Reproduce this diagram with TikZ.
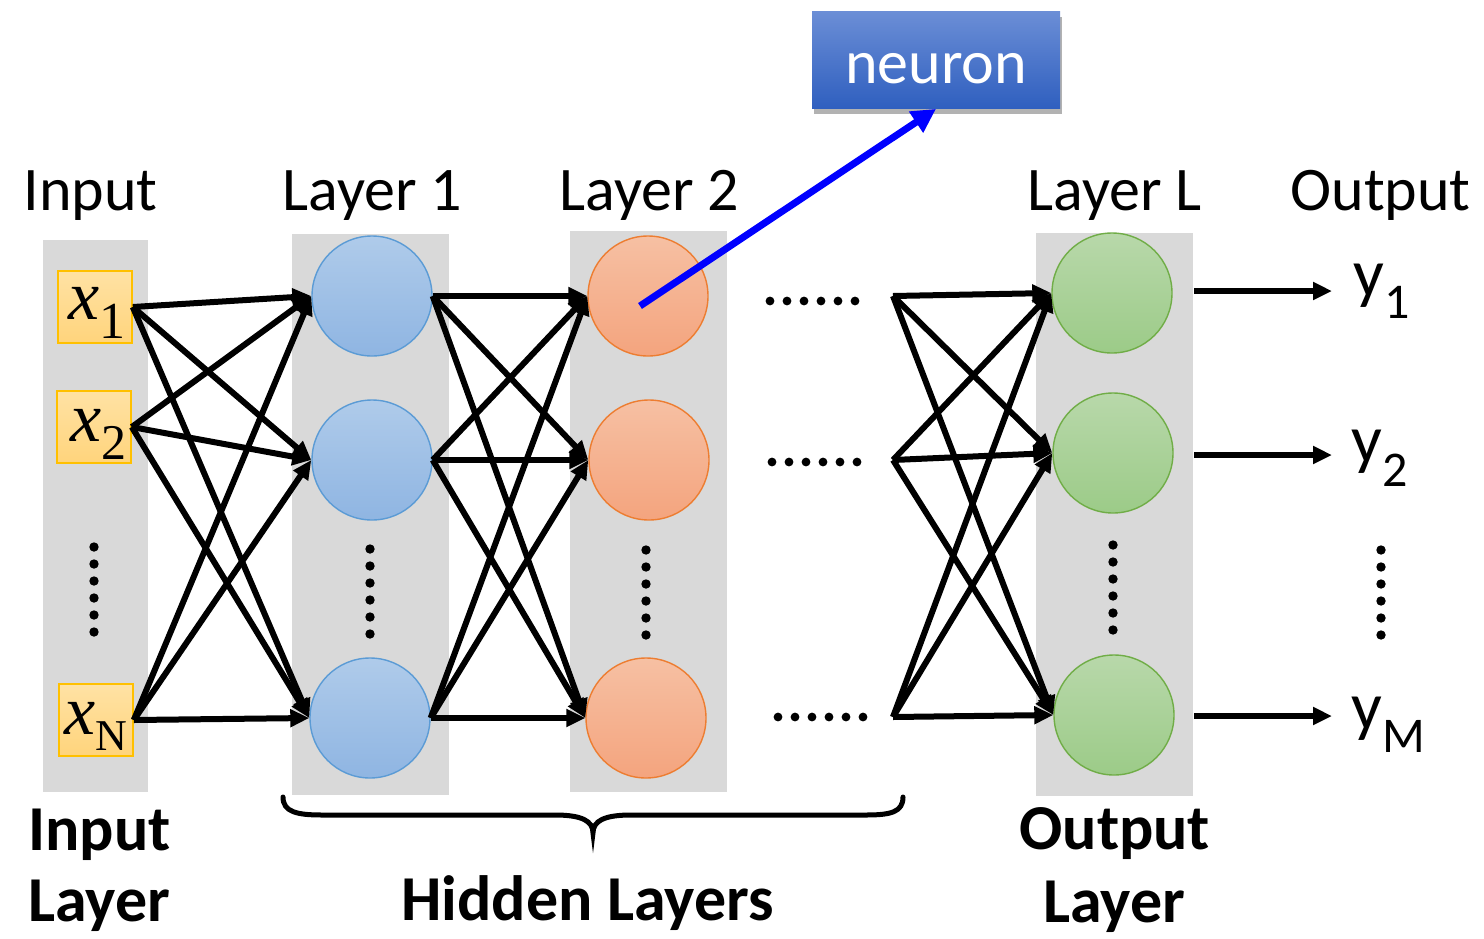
\documentclass[tikz,border=0pt]{standalone}
\usepackage{fontspec}
\setmainfont{Carlito}
\newfontfamily\tms{Liberation Serif}
\usetikzlibrary{arrows.meta,shadows}
\definecolor{gbar}{HTML}{D9D9D9}
\definecolor{bluetop}{HTML}{AFCBEA}
\definecolor{bluebot}{HTML}{8FB5E2}
\definecolor{blueline}{HTML}{5B9BD5}
\definecolor{orgtop}{HTML}{F6C0A3}
\definecolor{orgbot}{HTML}{F4A47E}
\definecolor{orgline}{HTML}{ED7D31}
\definecolor{grntop}{HTML}{B8D8AA}
\definecolor{grnbot}{HTML}{9CCB88}
\definecolor{grnline}{HTML}{70AD47}
\definecolor{xtop}{HTML}{FFE2A4}
\definecolor{xbot}{HTML}{FFD47C}
\definecolor{xline}{HTML}{FFC000}
\definecolor{neutop}{HTML}{6B8ED6}
\definecolor{neubot}{HTML}{2F5FBF}
\begin{document}
\begin{tikzpicture}[x=0.5pt,y=-0.5pt,
  neu/.style={circle,minimum size=60pt,inner sep=0pt,line width=0.7pt},
  bluen/.style={neu,draw=blueline,top color=bluetop,bottom color=bluebot},
  orgn/.style={neu,draw=orgline,top color=orgtop,bottom color=orgbot},
  grnn/.style={neu,draw=grnline,top color=grntop,bottom color=grnbot},
  xbox/.style={draw=xline,line width=0.8pt,top color=xtop,bottom color=xbot,minimum width=37pt,minimum height=36pt,inner sep=0pt},
  edge/.style={line width=3pt,-{Triangle[length=9.5pt,width=8.5pt]}},
  toplab/.style={anchor=base west,inner sep=0pt,font=\fontsize{31}{31}\selectfont},
  botlab/.style={anchor=base west,inner sep=0pt,font=\bfseries\fontsize{32}{32}\selectfont},
  dotc/.style={fill=black}
]
\useasboundingbox (0,0) rectangle (1484,938);
\fill[white] (0,0) rectangle (1484,938);
% gray columns
\fill[gbar] (43,240) rectangle (148,792);
\fill[gbar] (292,234) rectangle (449,795);
\fill[gbar] (570,231) rectangle (727,792);
\fill[gbar] (1036,233) rectangle (1193,796);
% input boxes
\node[xbox] (x1) at (95,307) {};
\node[xbox] (x2) at (94,427) {};
\node[xbox] (xN) at (96,720) {};
\node[anchor=base west,inner sep=0pt] (x1t) at (68,319) {\tms\fontsize{35}{35}\selectfont\itshape x\raisebox{-9.5pt}{\fontsize{26}{26}\selectfont\upshape 1}};
\node[anchor=base west,inner sep=0pt] (x2t) at (70,441) {\tms\fontsize{35}{35}\selectfont\itshape x\raisebox{-9pt}{\fontsize{25}{25}\selectfont\upshape 2}};
\node[anchor=base west,inner sep=0pt] (xNt) at (64,734) {\tms\fontsize{35}{35}\selectfont\itshape x\raisebox{-8pt}{\fontsize{22}{22}\selectfont\upshape N}};
% neurons
\node[bluen] (h11) at (372,296) {};
\node[bluen] (h12) at (372,460) {};
\node[bluen] (h13) at (370,718) {};
\node[orgn] (h21) at (648,296) {};
\node[orgn] (h22) at (649,460) {};
\node[orgn] (h23) at (646,718) {};
\node[grnn] (o1) at (1112,293) {};
\node[grnn] (o2) at (1113,453) {};
\node[grnn] (o3) at (1114,715) {};
% hubs before layer L
\coordinate (c1) at (893,296);
\coordinate (c2) at (893,460);
\coordinate (c3) at (893,717);
% edges
\foreach \s in {x1,x2,xN}{\foreach \t in {h11,h12,h13}{\draw[edge] (\s.east) -- (\t.west);}}
\foreach \s in {h11,h12,h13}{\foreach \t in {h21,h22,h23}{\draw[edge] (\s.east) -- (\t.west);}}
\foreach \s in {c1,c2,c3}{\foreach \t in {o1,o2,o3}{\draw[edge] (\s) -- (\t.west);}}
% outputs
\coordinate (a1) at (1194,291); \coordinate (b1) at (1332,291);
\coordinate (a2) at (1194,455); \coordinate (b2) at (1332,455);
\coordinate (a3) at (1194,716); \coordinate (b3) at (1332,716);
\draw[edge] (a1) -- (b1);
\draw[edge] (a2) -- (b2);
\draw[edge] (a3) -- (b3);
\node[anchor=base west,inner sep=0pt] (y1) at (1353,296) {\fontsize{34}{34}\selectfont y\raisebox{-11pt}{\fontsize{25}{25}\selectfont 1}};
\node[anchor=base west,inner sep=0pt] (y2) at (1351,462) {\fontsize{34}{34}\selectfont y\raisebox{-12pt}{\fontsize{25}{25}\selectfont 2}};
\node[anchor=base west,inner sep=0pt] (yM) at (1351,729) {\fontsize{34}{34}\selectfont y\raisebox{-11.5pt}{\fontsize{25}{25}\selectfont M}};
% vertical dots
\foreach \xx/\yy in {94/547,370/549,646/550,1113/545,1381/550}{
  \foreach \k in {0,...,5}{\fill[dotc] (\xx,\yy+17*\k) circle (4.7);}}
% horizontal dots
\foreach \xx/\yy in {770/301,772/462,778/717}{
  \foreach \k in {0,...,5}{\fill[dotc] (\xx+17*\k,\yy) circle (4.4);}}
% neuron box
\node[minimum width=124pt,minimum height=48.5pt,inner sep=0pt,top color=neutop,bottom color=neubot,
  drop shadow={shadow xshift=1pt,shadow yshift=-2.5pt,opacity=0.3,fill=black}] (neuron) at (936,60) {};
\node[anchor=base,inner sep=0pt,text=white,font=\fontsize{31}{31}\selectfont] (neutxt) at (936,83) {neuron};
\coordinate (nstart) at (640,306);
\draw[line width=3.5pt,blue,-{Triangle[length=12pt,width=12pt]}] (nstart) -- (neuron.south);
% top labels
\node[toplab] (tInput) at (23,210) {Input};
\node[toplab] (tL1) at (282,210) {Layer 1};
\node[toplab] (tL2) at (559,210) {Layer 2};
\node[toplab] (tLL) at (1027,210) {Layer L};
\node[toplab] (tOut) at (1290,210) {Output};
% brace
\draw[line width=2.5pt,line cap=round] (283,797) .. controls (283,812) and (297,815) .. (322,815) -- (555,815)
  .. controls (582,815) and (593,821) .. (593,833)
  .. controls (593,821) and (604,815) .. (631,815) -- (866,815)
  .. controls (891,815) and (903,812) .. (903,797);
% bottom labels
\node[botlab] (bIn1) at (28,850) {Input};
\node[botlab] (bIn2) at (28,921) {Layer};
\node[botlab] (bHid) at (401,920) {Hidden Layers};
\node[botlab] (bOut1) at (1019,849) {Output};
\node[botlab] (bOut2) at (1043,922) {Layer};
\end{tikzpicture}
\end{document}
